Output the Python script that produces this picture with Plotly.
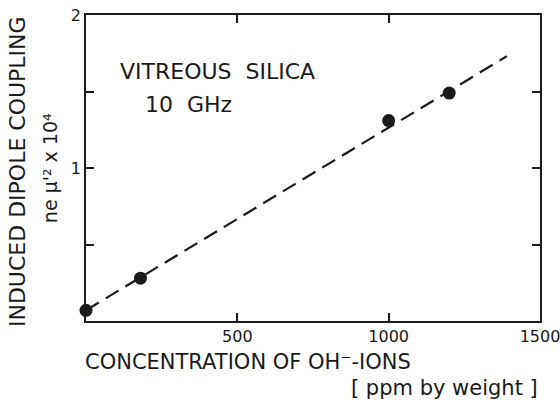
import plotly.graph_objects as go

# Data
conc_ppm = [0, 180, 1000, 1200]
coupling = [0.07, 0.28, 1.31, 1.49]
fit_x = [0, 1390]
fit_y = [0.07, 1.73]

x_tickvals = [500, 1000, 1500]
x_ticktext = ["500", "1000", "1500"]
y_tickvals = [0.5, 1, 1.5, 2]
y_ticktext = ["", "1", "", "2"]

FONT = "DejaVu Sans"
INK = "#1a1a1a"

fig = go.Figure()
fig.add_trace(go.Scatter(x=fit_x, y=fit_y, mode="lines",
                         line=dict(color=INK, width=2.2, dash="15px,8px"),
                         showlegend=False, hoverinfo="skip"))
fig.add_trace(go.Scatter(x=conc_ppm, y=coupling, mode="markers",
                         marker=dict(color=INK, size=13),
                         showlegend=False, cliponaxis=False))

axis_common = dict(showline=True, linecolor=INK, linewidth=1.7, mirror="ticks",
                   ticks="inside", ticklen=8, tickwidth=1.5, tickcolor=INK,
                   showgrid=False, zeroline=False, automargin=False,
                   ticklabeloverflow="allow",
                   tickfont=dict(family=FONT, size=16, color=INK))

fig.update_layout(
    width=560, height=408,
    margin=dict(l=86, r=20, t=15, b=87),
    paper_bgcolor="white", plot_bgcolor="white",
    xaxis=dict(range=[0, 1500], tickvals=x_tickvals, ticktext=x_ticktext, **axis_common),
    yaxis=dict(range=[0, 2], tickvals=y_tickvals, ticktext=y_ticktext, **axis_common),
)

fig.add_annotation(text="INDUCED DIPOLE COUPLING", textangle=-90,
                   xref="paper", yref="paper", x=-0.152, y=0.49,
                   xanchor="center", yanchor="middle", showarrow=False,
                   font=dict(family=FONT, size=22, color=INK))
fig.add_annotation(text="ne μ'² x 10⁴", textangle=-90,
                   xref="paper", yref="paper", x=-0.079, y=0.5,
                   xanchor="center", yanchor="middle", showarrow=False,
                   font=dict(family=FONT, size=19, color=INK))
fig.add_annotation(text="CONCENTRATION OF OH⁻-IONS",
                   xref="paper", yref="paper", x=-0.007, y=-0.135,
                   xanchor="left", yanchor="middle", showarrow=False,
                   font=dict(family=FONT, size=21, color=INK))
fig.add_annotation(text="[ ppm by weight ]",
                   xref="paper", yref="paper", x=1.0, y=-0.22,
                   xanchor="right", yanchor="middle", showarrow=False,
                   font=dict(family=FONT, size=21, color=INK))
fig.add_annotation(text="VITREOUS  SILICA",
                   xref="paper", yref="paper", x=0.07, y=0.814,
                   xanchor="left", yanchor="middle", showarrow=False,
                   font=dict(family=FONT, size=22, color=INK))
fig.add_annotation(text="10  GHz",
                   xref="paper", yref="paper", x=0.126, y=0.706,
                   xanchor="left", yanchor="middle", showarrow=False,
                   font=dict(family=FONT, size=22, color=INK))

fig.write_html("out.html")
